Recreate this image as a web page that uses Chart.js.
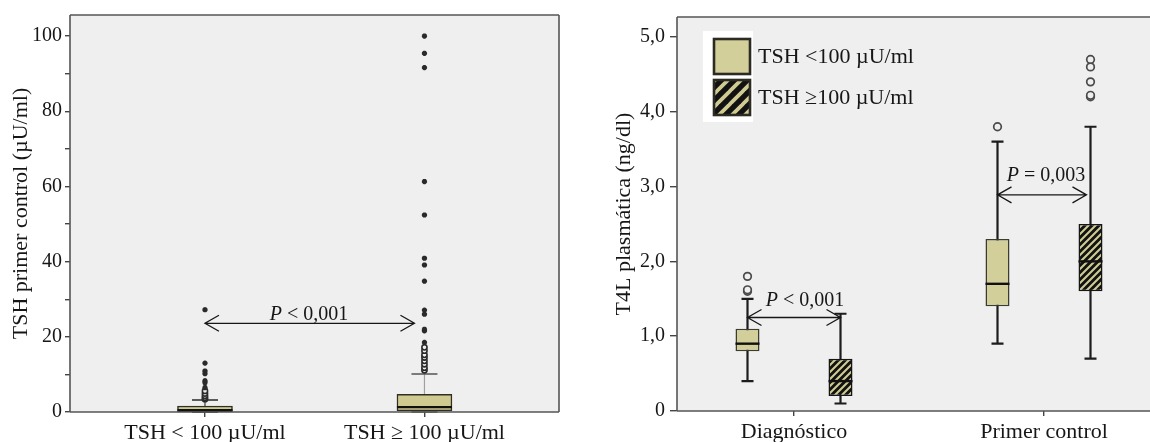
<!DOCTYPE html>
<html>
<head>
<meta charset="utf-8">
<script src="https://cdn.jsdelivr.net/npm/chart.js@4.4.1/dist/chart.umd.min.js"></script>
<style>
  html, body { margin: 0; padding: 0; background: #fff; }
  #wrap { position: relative; width: 1150px; height: 442px; overflow: hidden; }
  #tshChart { position: absolute; left: 0; top: 0; }
  #t4Chart { position: absolute; left: 600px; top: 0; }
</style>
</head>
<body>
<div id="wrap">
  <canvas id="tshChart" width="600" height="442"></canvas>
  <canvas id="t4Chart" width="550" height="442"></canvas>
</div>
<script>
// ---- Left panel: TSH at first control, by TSH group at diagnosis ----
const tshGroups = ['TSH < 100 \u00b5U/ml', 'TSH \u2265 100 \u00b5U/ml'];
const tshMin = [0, 0];
const tshQ1 = [0.1, 0.3];
const tshMedian = [0.5, 1.3];
const tshQ3 = [1.6, 4.7];
const tshMax = [3.2, 10.1];
const tshOutliers = [
  [3.4, 3.8, 4.3, 4.9, 5.6, 6.5, 7.8, 8.3, 10.2, 10.9, 13.0, 27.2],
  [11.1, 11.8, 12.7, 13.6, 14.5, 15.2, 16.3, 17.2, 18.5, 21.6, 22.0, 26.0, 27.1,
   34.8, 39.1, 40.9, 52.4, 61.3, 91.6, 95.4, 100]
];
const tshTicks = [0, 10, 20, 30, 40, 50, 60, 70, 80, 90, 100];
const tshPText = ['< 0,001'];

// ---- Right panel: plasma free T4 at diagnosis and first control ----
const t4Stages = ['Diagn\u00f3stico', 'Primer control'];
const t4Series = ['TSH <100 \u00b5U/ml', 'TSH \u2265100 \u00b5U/ml'];
const lowTshMin = [0.4, 0.9];
const lowTshQ1 = [0.8, 1.4];
const lowTshMedian = [0.9, 1.7];
const lowTshQ3 = [1.1, 2.3];
const lowTshMax = [1.5, 3.6];
const lowTshOutliers = [[1.6, 1.62, 1.8], [3.8]];
const highTshMin = [0.1, 0.7];
const highTshQ1 = [0.2, 1.6];
const highTshMedian = [0.4, 2.0];
const highTshQ3 = [0.7, 2.5];
const highTshMax = [1.3, 3.8];
const highTshOutliers = [[], [4.2, 4.22, 4.4, 4.6, 4.7]];
const t4Ticks = [0, 1, 2, 3, 4, 5];
const t4PText = ['< 0,001', '= 0,003'];

// ---- shared styling ----
const serif = '"Liberation Serif", "Times New Roman", Times, serif';
const ink = '#161616';
const tan = '#d3cf9a';
const plotBg = '#efefef';

function hatchPattern(size, width, fg, bg) {
  const c = document.createElement('canvas');
  c.width = size; c.height = size;
  const g = c.getContext('2d');
  g.fillStyle = bg; g.fillRect(0, 0, size, size);
  g.strokeStyle = fg; g.lineWidth = width;
  g.beginPath();
  for (const o of [-size, 0, size]) { g.moveTo(o - 1, size + 1); g.lineTo(o + size + 1, -1); }
  g.stroke();
  return g.createPattern(c, 'repeat');
}

const pick = (v, i) => Array.isArray(v) ? v[i] : v;

function drawMarker(ctx, style, x, y, r) {
  ctx.beginPath();
  if (style === 'circle') {
    ctx.arc(x, y, r, 0, Math.PI * 2);
    ctx.fill(); ctx.stroke();
  } else {
    for (let k = 0; k < 4; k++) {
      const a = k * Math.PI / 4;
      ctx.moveTo(x - r * Math.cos(a), y - r * Math.sin(a));
      ctx.lineTo(x + r * Math.cos(a), y + r * Math.sin(a));
    }
    ctx.stroke();
  }
}

// Box-plot decorations: whiskers, medians, outliers, comparison arrows, legend, frame
function boxPlotPlugin(cfg) {
  return {
    id: 'boxPlot',
    beforeDraw(chart) {
      const { ctx, chartArea: a } = chart;
      ctx.save();
      ctx.fillStyle = plotBg;
      ctx.fillRect(a.left, a.top, a.right - a.left, a.bottom - a.top);
      ctx.restore();
    },
    beforeDatasetsDraw(chart) {
      const { ctx } = chart;
      const y = chart.scales.y;
      ctx.save();
      chart.data.datasets.forEach((ds, di) => {
        chart.getDatasetMeta(di).data.forEach((bar, i) => {
          const cx = bar.x, cap = ds.capWidth / 2;
          const yMin = y.getPixelForValue(ds.whiskerMin[i]);
          const yMax = y.getPixelForValue(ds.whiskerMax[i]);
          ctx.strokeStyle = pick(ds.whiskerColor, i);
          ctx.lineWidth = ds.whiskerWidth;
          ctx.beginPath();
          ctx.moveTo(cx, yMin); ctx.lineTo(cx, yMax);
          ctx.stroke();
          ctx.strokeStyle = pick(ds.capColor, i);
          ctx.lineWidth = ds.capLineWidth;
          ctx.beginPath();
          ctx.moveTo(cx - cap, yMax); ctx.lineTo(cx + cap, yMax);
          ctx.moveTo(cx - cap, yMin); ctx.lineTo(cx + cap, yMin);
          ctx.stroke();
        });
      });
      ctx.restore();
    },
    afterDatasetsDraw(chart) {
      const { ctx, chartArea: a } = chart;
      const x = chart.scales.x, y = chart.scales.y;
      ctx.save();
      chart.data.datasets.forEach((ds, di) => {
        chart.getDatasetMeta(di).data.forEach((bar, i) => {
          const cx = bar.x, half = bar.width / 2;
          const ym = y.getPixelForValue(ds.median[i]);
          ctx.strokeStyle = ds.medianColor;
          ctx.lineWidth = ds.medianWidth;
          ctx.beginPath();
          ctx.moveTo(cx - half, ym); ctx.lineTo(cx + half, ym);
          ctx.stroke();
          const q1 = ds.data[i].y[0], q3 = ds.data[i].y[1];
          const extremeAbove = q3 + 3 * (q3 - q1);
          ds.outliers[i].forEach(v => {
            const style = v > extremeAbove ? ds.extremeStyle : 'circle';
            ctx.strokeStyle = ds.markerColor;
            ctx.fillStyle = plotBg;
            ctx.lineWidth = style === 'circle' ? ds.markerLine : ds.extremeLine;
            drawMarker(ctx, style, cx, y.getPixelForValue(v),
              style === 'circle' ? ds.markerRadius : ds.extremeRadius);
          });
        });
      });

      (cfg.comparisons || []).forEach(c => {
        const p0 = chart.getDatasetMeta(c.from[0]).data[c.from[1]];
        const p1 = chart.getDatasetMeta(c.to[0]).data[c.to[1]];
        const x0 = p0.x + (c.fromInset || 0), x1 = p1.x - (c.toInset || 0);
        const yy = y.getPixelForValue(c.y);
        ctx.strokeStyle = ink; ctx.lineWidth = 1.3;
        ctx.beginPath();
        ctx.moveTo(x0, yy); ctx.lineTo(x1, yy);
        ctx.moveTo(x0 + 14, yy - 8); ctx.lineTo(x0, yy); ctx.lineTo(x0 + 14, yy + 8);
        ctx.moveTo(x1 - 14, yy - 8); ctx.lineTo(x1, yy); ctx.lineTo(x1 - 14, yy + 8);
        ctx.stroke();
        const lx = x.getPixelForValue(c.labelX), ly = y.getPixelForValue(c.labelY);
        const italic = `italic ${cfg.labelSize}px ${serif}`, plain = `${cfg.labelSize}px ${serif}`;
        ctx.font = italic; const wP = ctx.measureText('P').width;
        const rest = ' ' + c.text;
        ctx.font = plain; const wR = ctx.measureText(rest).width;
        const start = lx - (wP + wR) / 2;
        ctx.fillStyle = ink; ctx.textAlign = 'left'; ctx.textBaseline = 'alphabetic';
        ctx.font = italic; ctx.fillText('P', start, ly);
        ctx.font = plain; ctx.fillText(rest, start + wP, ly);
      });

      if (cfg.legend) {
        const L = cfg.legend;
        const bx = a.left + L.x, by = a.top + L.y;
        ctx.fillStyle = '#ffffff';
        ctx.fillRect(bx, by, L.w, L.h);
        chart.data.datasets.forEach((ds, i) => {
          const sx = bx + L.swatchX, sy = by + L.swatchY + i * L.rowGap;
          ctx.fillStyle = ds.legendFill;
          ctx.fillRect(sx, sy, L.swatchW, L.swatchH);
          ctx.strokeStyle = '#2b2b24'; ctx.lineWidth = 2.6;
          ctx.strokeRect(sx, sy, L.swatchW, L.swatchH);
          ctx.fillStyle = ink;
          ctx.font = `${L.fontSize}px ${serif}`;
          ctx.textAlign = 'left'; ctx.textBaseline = 'middle';
          ctx.fillText(ds.label, sx + L.swatchW + 8, sy + L.swatchH / 2 + 1);
        });
      }
      ctx.restore();
    },
    afterDraw(chart) {
      const { ctx, chartArea: a } = chart;
      ctx.save();
      ctx.strokeStyle = cfg.frameColor; ctx.lineWidth = 1.6;
      ctx.beginPath();
      ctx.moveTo(a.left, a.top); ctx.lineTo(a.left, a.bottom);
      ctx.moveTo(a.left, a.bottom); ctx.lineTo(a.right, a.bottom);
      ctx.moveTo(a.left, a.top); ctx.lineTo(a.right, a.top);
      if (cfg.rightEdge) { ctx.moveTo(a.right, a.top); ctx.lineTo(a.right, a.bottom); }
      ctx.stroke();
      ctx.restore();
    }
  };
}

function yScale(opts) {
  return {
    type: 'linear', min: 0, max: opts.max,
    afterBuildTicks: s => { s.ticks = opts.ticks.map(v => ({ value: v })); },
    afterFit: s => { s.width = opts.width; },
    ticks: {
      color: ink, padding: opts.labelPad, font: { family: serif, size: 20 },
      callback: opts.format
    },
    grid: { drawOnChartArea: false, drawTicks: true, tickLength: opts.tickLength, color: '#444', lineWidth: 1.4 },
    border: { display: false },
    title: { display: true, text: opts.title, color: ink, font: { family: serif, size: 22 }, padding: { top: opts.titlePad, bottom: 0 } }
  };
}

function xScale(opts) {
  return {
    type: 'linear', min: opts.min, max: opts.max, offset: false,
    afterBuildTicks: s => { s.ticks = opts.labels.map((_, i) => ({ value: i + 1 })); },
    afterFit: s => { s.height = opts.height; },
    ticks: {
      color: ink, padding: 3, maxRotation: 0, autoSkip: false,
      font: { family: serif, size: 22 },
      callback: v => opts.labels[Math.round(v) - 1]
    },
    grid: { drawOnChartArea: false, drawTicks: true, tickLength: 5, color: '#444', lineWidth: 1.4, offset: false },
    border: { display: false }
  };
}

// ---- Left chart ----
new Chart(document.getElementById('tshChart'), {
  type: 'bar',
  data: {
    datasets: [{
      label: 'TSH primer control',
      data: tshGroups.map((_, i) => ({ x: i + 1, y: [tshQ1[i], tshQ3[i]] })),
      backgroundColor: '#cfca8f',
      borderColor: '#2f2f25',
      borderWidth: 1.5,
      borderSkipped: false,
      barThickness: 55,
      whiskerMin: tshMin, whiskerMax: tshMax, median: tshMedian, outliers: tshOutliers,
      whiskerColor: ['#3a3a3a', '#a0a0a0'], whiskerWidth: 1.2,
      capColor: ['#2a2a2a', '#555555'], capLineWidth: 1.6, capWidth: 26,
      medianColor: '#111', medianWidth: 2.2,
      markerColor: '#2a2a2a', markerRadius: 2.6, markerLine: 1.6,
      extremeStyle: 'star', extremeRadius: 2.6, extremeLine: 1.8
    }]
  },
  options: {
    responsive: false, animation: false,
    layout: { padding: { left: 0, top: 15, right: 41, bottom: 0 } },
    plugins: { legend: { display: false }, tooltip: { enabled: false } },
    scales: {
      x: xScale({ min: 0.385, max: 2.613, labels: tshGroups, height: 30 }),
      y: yScale({
        max: 105.6, ticks: tshTicks, width: 70, labelPad: 3, tickLength: 5, titlePad: 8,
        title: 'TSH primer control (\u00b5U/ml)',
        format: v => (v % 20 === 0 ? String(v) : '')
      })
    }
  },
  plugins: [boxPlotPlugin({
    frameColor: '#555', rightEdge: true, labelSize: 20,
    comparisons: [{ from: [0, 0], to: [0, 1], toInset: 10, y: 23.6, text: tshPText[0], labelX: 1.474, labelY: 24.6 }]
  })]
});

// ---- Right chart ----
const hatchBox = hatchPattern(7, 2.1, '#cfcb93', '#121212');
const hatchLegend = hatchPattern(13, 3.8, '#cfcb93', '#121212');
const boxStyle = {
  borderColor: '#3b3b30', borderWidth: 1.5, borderSkipped: false,
  categoryPercentage: 0.744, barPercentage: 0.258,
  whiskerColor: '#1c1c1c', whiskerWidth: 2.2,
  capColor: '#1c1c1c', capLineWidth: 2.2, capWidth: 12,
  medianColor: '#111', medianWidth: 2.4,
  markerColor: '#4a4a4a', markerRadius: 3.8, markerLine: 1.7,
  extremeStyle: 'star', extremeRadius: 3.5, extremeLine: 1.6
};
new Chart(document.getElementById('t4Chart'), {
  type: 'bar',
  data: {
    datasets: [
      Object.assign({
        label: t4Series[0],
        data: t4Stages.map((_, i) => ({ x: i + 1, y: [lowTshQ1[i], lowTshQ3[i]] })),
        backgroundColor: tan, legendFill: tan,
        whiskerMin: lowTshMin, whiskerMax: lowTshMax, median: lowTshMedian, outliers: lowTshOutliers
      }, boxStyle),
      Object.assign({
        label: t4Series[1],
        data: t4Stages.map((_, i) => ({ x: i + 1, y: [highTshQ1[i], highTshQ3[i]] })),
        backgroundColor: hatchBox, legendFill: hatchLegend,
        whiskerMin: highTshMin, whiskerMax: highTshMax, median: highTshMedian, outliers: highTshOutliers
      }, boxStyle, { borderColor: '#151515' })
    ]
  },
  options: {
    responsive: false, animation: false,
    layout: { padding: { left: 0, top: 16, right: 0, bottom: 0 } },
    plugins: { legend: { display: false }, tooltip: { enabled: false } },
    scales: {
      x: xScale({ min: 0.532, max: 2.424, labels: t4Stages, height: 31 }),
      y: yScale({
        max: 5.267, ticks: t4Ticks, width: 77, labelPad: 5, tickLength: 7, titlePad: 11,
        title: 'T4L plasm\u00e1tica (ng/dl)',
        format: v => (v === 0 ? '0' : v.toFixed(1).replace('.', ','))
      })
    }
  },
  plugins: [boxPlotPlugin({
    frameColor: '#555', rightEdge: false, labelSize: 20,
    comparisons: [
      { from: [0, 0], to: [1, 0], y: 1.25, text: t4PText[0], labelX: 1.044, labelY: 1.41 },
      { from: [0, 1], to: [1, 1], toInset: 4, y: 2.89, text: t4PText[1], labelX: 2.008, labelY: 3.08 }
    ],
    legend: { x: 26, y: 14, w: 50, h: 91, swatchX: 11, swatchY: 8, swatchW: 36, swatchH: 35, rowGap: 41, fontSize: 22 }
  })]
});
</script>
</body>
</html>
